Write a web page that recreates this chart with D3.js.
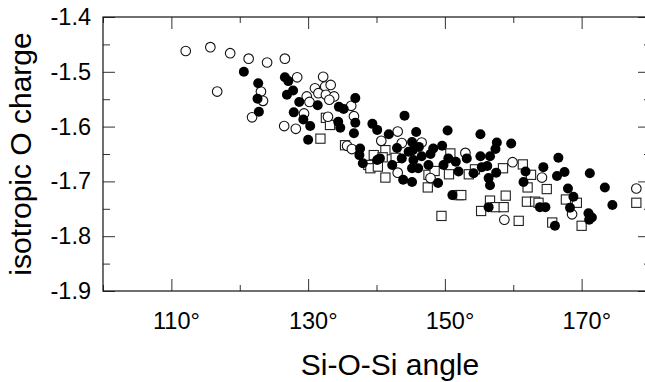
<!DOCTYPE html>
<html>
<head>
<meta charset="utf-8">
<script src="https://cdn.jsdelivr.net/npm/d3@7"></script>
<style>
  body { margin: 0; background: #fff; }
  svg { display: block; font-family: "Liberation Sans", Arial, sans-serif; }
</style>
</head>
<body>
<svg id="chart" width="645" height="382"></svg>
<script>
// [Si-O-Si angle (deg), isotropic O charge]
const filledPts = [
  [120.6,-1.500],[122.7,-1.521],[122.6,-1.549],[122.8,-1.573],[126.6,-1.510],[127.1,-1.517],
  [127.8,-1.534],[126.9,-1.542],[128.7,-1.555],[127.9,-1.574],[129.3,-1.587],[130.3,-1.599],
  [130.0,-1.624],[131.4,-1.561],[134.5,-1.564],[135.2,-1.568],[136.9,-1.548],[134.4,-1.591],
  [134.7,-1.602],[136.9,-1.593],[136.7,-1.612],[137.6,-1.640],[137.5,-1.652],[138.0,-1.667],
  [144.1,-1.580],[139.4,-1.595],[140.1,-1.606],[141.8,-1.614],[145.8,-1.610],[150.4,-1.607],
  [143.0,-1.639],[145.2,-1.628],[149.6,-1.635],[148.3,-1.640],[140.5,-1.658],[140.1,-1.661],
  [143.7,-1.658],[145.4,-1.661],[147.9,-1.650],[147.6,-1.670],[142.3,-1.670],[145.2,-1.676],
  [146.1,-1.676],[143.9,-1.697],[145.2,-1.701],[149.0,-1.703],[150.5,-1.658],[151.6,-1.664],
  [152.0,-1.682],[151.1,-1.725],[155.2,-1.614],[157.6,-1.629],[157.4,-1.641],[159.7,-1.631],
  [153.2,-1.658],[155.2,-1.654],[156.6,-1.654],[154.2,-1.685],[155.4,-1.674],[156.2,-1.672],
  [157.5,-1.684],[156.4,-1.694],[156.6,-1.707],[156.4,-1.747],[161.8,-1.682],[161.5,-1.701],
  [164.4,-1.674],[163.9,-1.747],[164.7,-1.747],[166.6,-1.657],[166.4,-1.690],[167.5,-1.683],
  [171.2,-1.685],[168.0,-1.713],[173.4,-1.711],[168.8,-1.728],[168.3,-1.748],[171.0,-1.758],
  [171.5,-1.766],[171.1,-1.770],[174.5,-1.743],[166.1,-1.781],[144.7,-1.646],[146.2,-1.637],
  [146.6,-1.654],[145.3,-1.643],[149.8,-1.670]
];
const openPts = [
  [112.1,-1.462],[115.7,-1.455],[118.6,-1.466],[121.3,-1.476],[124.0,-1.483],[126.6,-1.476],
  [116.7,-1.536],[123.1,-1.536],[123.4,-1.553],[121.8,-1.583],[126.5,-1.599],[128.2,-1.604],
  [128.4,-1.510],[132.2,-1.509],[131.0,-1.530],[132.5,-1.527],[133.3,-1.524],[129.8,-1.545],
  [130.2,-1.555],[131.5,-1.539],[132.6,-1.542],[133.8,-1.545],[133.1,-1.551],[136.3,-1.562],
  [129.4,-1.576],[132.9,-1.582],[136.7,-1.581],[135.7,-1.635],[136.4,-1.641],[143.1,-1.609],
  [140.7,-1.626],[143.7,-1.630],[146.6,-1.629],[143.1,-1.684],[147.9,-1.694],[153.0,-1.648],
  [159.9,-1.665],[164.2,-1.693],[158.7,-1.770],[168.6,-1.760],[178.0,-1.713]
];
const squarePts = [
  [131.8,-1.622],[132.6,-1.584],[133.2,-1.597],[135.4,-1.634],[138.8,-1.670],[139.1,-1.676],
  [139.6,-1.652],[141.3,-1.643],[140.2,-1.673],[140.9,-1.656],[142.8,-1.657],[141.3,-1.693],
  [147.6,-1.688],[148.5,-1.681],[147.5,-1.711],[150.8,-1.649],[150.6,-1.687],[149.5,-1.763],
  [152.0,-1.725],[152.4,-1.725],[153.5,-1.687],[154.4,-1.678],[158.5,-1.676],[161.4,-1.669],
  [162.6,-1.688],[162.1,-1.711],[164.9,-1.714],[158.9,-1.726],[156.6,-1.735],[155.3,-1.754],
  [157.4,-1.747],[158.6,-1.747],[162.0,-1.737],[163.2,-1.737],[163.7,-1.739],[160.8,-1.772],
  [165.7,-1.775],[167.7,-1.733],[169.3,-1.739],[170.0,-1.781],[178.0,-1.739]
];

const xMajor = [110, 130, 150, 170];
const xMinor = [100, 120, 140, 160, 180];
const yMajor = [-1.4, -1.5, -1.6, -1.7, -1.8, -1.9];
const yMinor = [-1.45, -1.55, -1.65, -1.75, -1.85];

const padL = 103, padR = 650, padT = 17, padB = 291;

const svg = d3.select("#chart");
const x = d3.scaleLinear().domain([100, 180]).range([padL, padR]);
const y = d3.scaleLinear().domain([-1.9, -1.4]).range([padB, padT]);

// tick marks, all pointing inward
function ticks(axisFn, scale, vals, len, tr) {
  const g = svg.append("g").attr("transform", tr)
    .call(axisFn(scale).tickValues(vals).tickSize(-len).tickFormat(""));
  g.select(".domain").remove();
  g.selectAll(".tick line").attr("stroke", "#333").attr("stroke-width", 1);
  return g;
}
ticks(d3.axisBottom, x, xMajor, 12, `translate(0,${padB})`);
ticks(d3.axisBottom, x, xMinor, 6, `translate(0,${padB})`);
ticks(d3.axisTop, x, xMajor, 12, `translate(0,${padT})`);
ticks(d3.axisTop, x, xMinor, 6, `translate(0,${padT})`);
ticks(d3.axisLeft, y, yMajor, 12, `translate(${padL},0)`);
ticks(d3.axisLeft, y, yMinor, 7, `translate(${padL},0)`);
ticks(d3.axisRight, y, yMajor, 12, `translate(${padR},0)`);
ticks(d3.axisRight, y, yMinor, 6, `translate(${padR},0)`);

// frame
svg.append("rect")
  .attr("x", padL).attr("y", padT)
  .attr("width", padR - padL).attr("height", padB - padT)
  .attr("fill", "none").attr("stroke", "#111").attr("stroke-width", 1.2);

// tick labels
const xl = svg.append("g").attr("transform", `translate(0,${padB})`)
  .call(d3.axisBottom(x).tickValues(xMajor).tickSize(0).tickPadding(21)
    .tickFormat(d => d + "°"));
xl.select(".domain").remove();
xl.selectAll("text").attr("font-size", 23.5).attr("fill", "#000")
  .attr("font-family", "Liberation Sans, Arial, sans-serif").attr("dx", 4.6);

const yl = svg.append("g").attr("transform", `translate(${padL},0)`)
  .call(d3.axisLeft(y).tickValues(yMajor).tickSize(0).tickPadding(12)
    .tickFormat(d => d.toFixed(1)));
yl.select(".domain").remove();
yl.selectAll("text").attr("font-size", 23.5).attr("fill", "#000")
  .attr("font-family", "Liberation Sans, Arial, sans-serif");

// axis titles
svg.append("text")
  .attr("x", 390).attr("y", 375)
  .attr("text-anchor", "middle").attr("font-size", 30)
  .text("Si-O-Si angle");
svg.append("text")
  .attr("transform", `translate(31,154) rotate(-90)`)
  .attr("text-anchor", "middle").attr("font-size", 30)
  .text("isotropic O charge");

// markers
const s = 9.2;
svg.append("g").selectAll("rect")
  .data(squarePts).join("rect")
  .attr("x", d => x(d[0]) - s / 2).attr("y", d => y(d[1]) - s / 2)
  .attr("width", s).attr("height", s)
  .attr("fill", "#fff").attr("stroke", "#222").attr("stroke-width", 1.1);

svg.append("g").selectAll("circle")
  .data(openPts).join("circle")
  .attr("cx", d => x(d[0])).attr("cy", d => y(d[1])).attr("r", 4.8)
  .attr("fill", "#fff").attr("stroke", "#111").attr("stroke-width", 1.1);

svg.append("g").selectAll("circle")
  .data(filledPts).join("circle")
  .attr("cx", d => x(d[0])).attr("cy", d => y(d[1])).attr("r", 5)
  .attr("fill", "#000");
</script>
</body>
</html>
